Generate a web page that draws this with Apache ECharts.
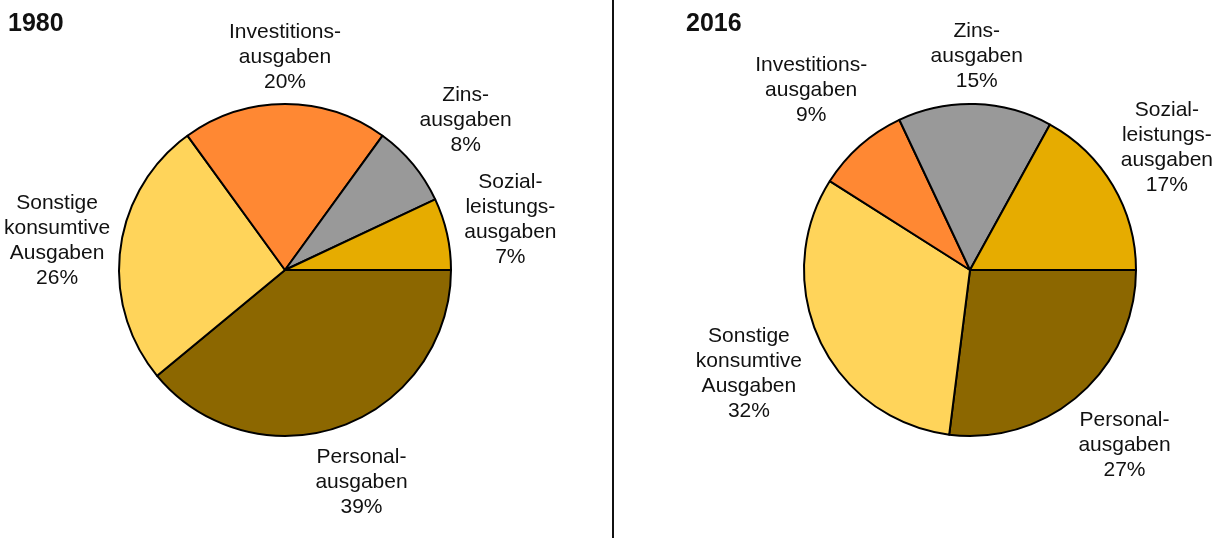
<!DOCTYPE html>
<html>
<head>
<meta charset="utf-8">
<script src="https://cdn.jsdelivr.net/npm/echarts@6/dist/echarts.min.js"></script>
<style>
  html, body { margin: 0; padding: 0; background: #fff; }
  #chart { width: 1219px; height: 538px; }
</style>
</head>
<body>
<div id="chart"></div>
<script>
// Kategorien (Reihenfolge im Uhrzeigersinn ab 3 Uhr)
const categories = ['Personal-\nausgaben', 'Sonstige\nkonsumtive\nAusgaben', 'Investitions-\nausgaben', 'Zins-\nausgaben', 'Sozial-\nleistungs-\nausgaben'];
const years = ['1980', '2016'];
const values1980 = [39, 26, 20, 8, 7];
const values2016 = [27, 32, 9, 15, 17];
const colors = ['#8c6700', '#ffd45a', '#ff8833', '#999999', '#e6ac00'];

const allValues = [values1980, values2016];
const centers = [[285, 270], [970, 270]];
const R = 166;
const gap = 9;

// Mittelwinkel je Segment (Grad, im Uhrzeigersinn ab 3 Uhr)
const midAngles = allValues.map(vals => {
  const total = vals.reduce((a, b) => a + b, 0);
  let acc = 0;
  return vals.map(v => {
    const mid = (acc + v / 2) / total * 360;
    acc += v;
    return mid;
  });
});

const font = '"Liberation Sans", Arial, sans-serif';

const chart = echarts.init(document.getElementById('chart'));

const series = allValues.map((vals, s) => ({
  type: 'pie',
  center: centers[s],
  radius: R,
  startAngle: 0,
  clockwise: true,
  animation: false,
  silent: true,
  avoidLabelOverlap: false,
  data: vals.map((v, i) => ({ name: categories[i], value: v })),
  itemStyle: { borderColor: '#000', borderWidth: 2 },
  label: {
    show: true,
    position: 'outside',
    formatter: '{b}\n{c}%',
    color: '#111',
    fontFamily: font,
    fontSize: 21,
    lineHeight: 25
  },
  labelLine: { show: false, length: 10, length2: 0 },
  labelLayout: function (p) {
    const a = midAngles[s][p.dataIndex] * Math.PI / 180;
    const c = Math.cos(a), sn = Math.sin(a);
    const w = p.labelRect.width, h = p.labelRect.height;
    const d = R + gap + Math.abs(c) * w / 2 + Math.abs(sn) * h / 2;
    // nicht über den Rand hinaus
    const x = Math.max(w / 2 + 4, Math.min(chart.getWidth() - w / 2 - 6, centers[s][0] + d * c));
    return {
      x: x,
      y: centers[s][1] + d * sn,
      align: 'center',
      verticalAlign: 'middle'
    };
  },
  emphasis: { disabled: true }
}));

chart.setOption({
  color: colors,
  title: [
    { text: years[0], left: 8, top: 12, padding: 0, textStyle: { fontFamily: font, fontWeight: 'bold', fontSize: 25, color: '#111' } },
    { text: years[1], left: 686, top: 12, padding: 0, textStyle: { fontFamily: font, fontWeight: 'bold', fontSize: 25, color: '#111' } }
  ],
  graphic: [{
    type: 'line',
    shape: { x1: 613, y1: 0, x2: 613, y2: 538 },
    style: { stroke: '#111', lineWidth: 2 }
  }],
  series: series
});
</script>
</body>
</html>
